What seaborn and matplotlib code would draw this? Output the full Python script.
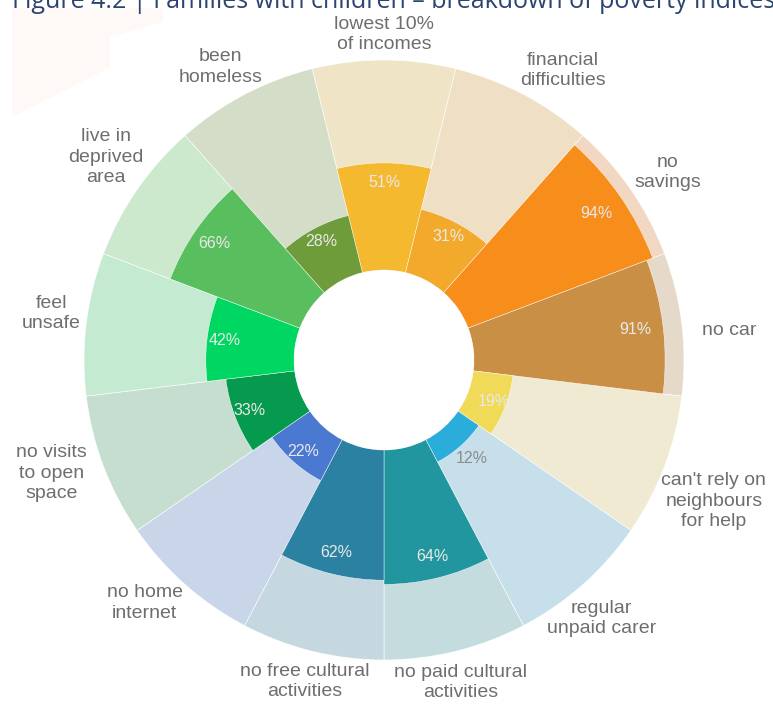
import numpy as np
import matplotlib
matplotlib.use("Agg")
import matplotlib.pyplot as plt
from matplotlib.patches import Polygon
import seaborn as sns

# Poverty indices for families with children (share of families, %)
categories = [
    "lowest 10%\nof incomes",
    "financial\ndifficulties",
    "no\nsavings",
    "no car",
    "can't rely on\nneighbours\nfor help",
    "regular\nunpaid carer",
    "no paid cultural\nactivities",
    "no free cultural\nactivities",
    "no home\ninternet",
    "no visits\nto open\nspace",
    "feel\nunsafe",
    "live in\ndeprived\narea",
    "been\nhomeless",
]
values = [51, 31, 94, 91, 19, 12, 64, 62, 22, 33, 42, 66, 28]

bar_colors = [
    "#F5B92F", "#F3AA2C", "#F78D1B", "#C99045", "#F0DA58", "#2AADDB",
    "#21969E", "#2A81A1", "#4B79D2", "#069A4F", "#00D762", "#59BE5E",
    "#6F9C3B",
]
back_colors = [
    "#F0E4C6", "#EFDFC4", "#F2D8C2", "#E5D9CA", "#F0EAD2", "#C6DFEA",
    "#C5DCDF", "#C5D8DF", "#C9D6E9", "#C6DECF", "#C4EAD1", "#CCE8CD",
    "#D4DDC8",
]

# placement of the outer category labels: radius (data units) and angular nudge (deg)
label_radius = [112, 119, 119, 122, 128, 118, 115, 115, 119.5, 124.5, 117, 121, 117]
label_nudge = [0, 4, 1.2, 2, 2.4, 1.5, 0.5, 0, 3, 2, 1, 1.5, -1.5]

sns.set_theme(style="white")
plt.rcParams["font.family"] = ["Liberation Sans", "DejaVu Sans"]

W, H, DPI = 773, 708, 100
fig = plt.figure(figsize=(W / DPI, H / DPI), dpi=DPI)
fig.patch.set_facecolor("white")

# faint tint in the upper-left corner
fig.patches.append(Polygon(
    [(12 / W, 1 - 8 / H), (163 / W, 1 - 8 / H), (163 / W, 1 - 22 / H),
     (110 / W, 1 - 37 / H), (110 / W, 1 - 67 / H), (12 / W, 1 - 117 / H)],
    closed=True, transform=fig.transFigure, facecolor="#FEF9F7",
    edgecolor="none", zorder=0))

cx, cy, R = 384, 360, 300
ax = fig.add_axes([(cx - R) / W, (H - cy - R) / H, 2 * R / W, 2 * R / H],
                  projection="polar")
ax.set_theta_zero_location("N")
ax.set_theta_direction(-1)

hole = 90 / (R - 90) * 100
ax.set_rorigin(-hole)
ax.set_ylim(0, 100)

n = len(categories)
theta = np.arange(n) * 2 * np.pi / n
width = 2 * np.pi / n

ax.bar(theta, [100] * n, width=width, bottom=0, color=back_colors,
       edgecolor="white", linewidth=0.4, zorder=1)
ax.bar(theta, values, width=width, bottom=0, color=bar_colors,
       edgecolor="white", linewidth=0.3, zorder=2)

for t, v in zip(theta, values):
    if v >= 15:
        ax.text(t, 0.9 * v - 0.1 * hole, f"{v}%", ha="center", va="center",
                fontsize=11.5, color="#E9E9E9", zorder=3)
    else:
        ax.text(t, v + 8, f"{v}%", ha="center", va="center",
                fontsize=11.5, color="#8C8C8C", zorder=3)

for t, lab, rl, dn in zip(theta, categories, label_radius, label_nudge):
    ax.text(t + np.deg2rad(dn), rl, lab, ha="center", va="center", fontsize=14,
            color="#6E6E6E", linespacing=1.25, zorder=3)

ax.set_axis_off()

fig.text(12 / W, 1 - 8 / H,
         "Figure 4.2 | Families with children \u2013 breakdown of poverty indices",
         ha="left", va="baseline", fontsize=18, color="#2B4470",
         family=["Open Sans", "DejaVu Sans"])

fig.savefig("out.png", dpi=DPI)
